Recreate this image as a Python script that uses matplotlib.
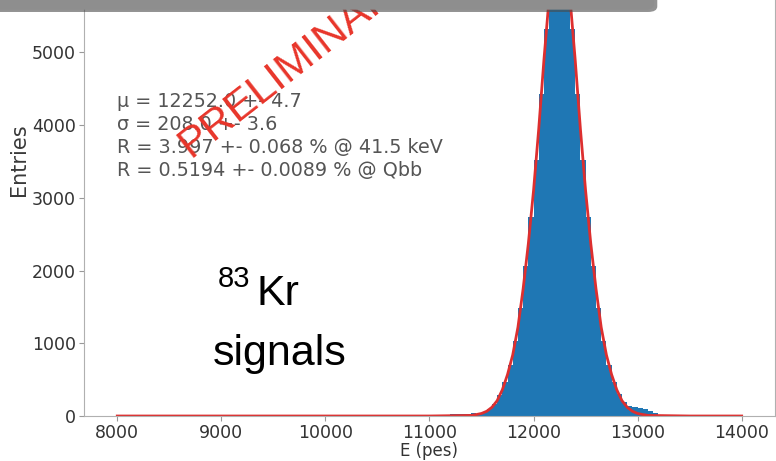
import matplotlib
matplotlib.use('Agg')
import matplotlib.pyplot as plt
from matplotlib.patches import FancyBboxPatch
import numpy as np

# histogram of 83Kr energies (bin width 50 pes), counts
bin_edges_lo = 11000
bin_width = 50
counts = [15, 15, 18, 20, 22, 25, 28, 30, 35, 30,
          50, 90, 165, 285, 465, 705, 1030, 1485, 2060, 2735,
          3525, 4425, 5325, 6075, 6550, 6550, 6075, 5325, 4425, 3525,
          2735, 2060, 1485, 1030, 705, 470, 300, 190, 140, 125,
          110, 95, 75, 45, 15]

# gaussian fit curve, sampled
fit_x = [8000, 11000, 11400, 11450, 11500, 11550, 11600, 11650, 11700, 11750,
         11800, 11850, 11900, 11950, 12000, 12050, 12100, 12150, 12200, 12250,
         12300, 12350, 12400, 12450, 12500, 12550, 12600, 12650, 12700, 12750,
         12800, 12850, 12900, 12950, 13000, 13050, 13100, 13500, 14000]
fit_y = [0, 0, 8, 20, 35, 65, 120, 210, 360, 570,
         840, 1220, 1750, 2370, 3100, 3950, 4900, 5750, 6400, 6700,
         6400, 5750, 4900, 3950, 3100, 2370, 1750, 1220, 840, 570,
         360, 210, 120, 65, 35, 20, 8, 0, 0]

fit_lines = ["\u03bc = 12252.0 +- 4.7",
             "\u03c3 = 208.0 +- 3.6",
             "R = 3.997 +- 0.068 % @ 41.5 keV",
             "R = 0.5194 +- 0.0089 % @ Qbb"]

fig = plt.figure(figsize=(7.76, 4.61), dpi=100)
ax = fig.add_axes([0.1082, 0.0976, 0.8905, 1.1106])

edges = bin_edges_lo + bin_width * np.arange(len(counts) + 1)
centers = edges[:-1] + bin_width / 2
ax.hist(centers, bins=edges, weights=counts, color='#1f77b4')
ax.plot(fit_x, fit_y, color='#dd2f2f', lw=2)

ax.set_xlim(7680, 14320)
ax.set_ylim(0, 7040)
ax.set_xticks([8000, 9000, 10000, 11000, 12000, 13000, 14000])
ax.set_yticks([0, 1000, 2000, 3000, 4000, 5000])
ax.tick_params(labelsize=12.5, colors='#999999', labelcolor='#333333', pad=2.5)
for s in ax.spines.values():
    s.set_color('#b0b0b0')
ax.set_xlabel('E (pes)', fontsize=12, color='#333333', labelpad=0)
ax.set_ylabel('Entries', fontsize=15, color='#3a3a3a', labelpad=2)

ax.text(8000, 4450, "\n".join(fit_lines), fontsize=13.8, color='#555555',
        va='top', ha='left', linespacing=1.26)

# annotations on the slide
fig.text(0.245, 0.657, 'PRELIMINARY', rotation=38, rotation_mode='anchor',
         fontsize=31, color='#e8352a', ha='left', va='baseline',
         family='Liberation Sans')
fig.text(0.280, 0.377, '83', fontsize=21, color='black', family='Liberation Sans')
fig.text(0.331, 0.338, 'Kr', fontsize=31, color='black', family='Liberation Sans')
fig.text(0.2745, 0.208, 'signals', fontsize=31, color='black', family='Liberation Sans')

# grey bar from the slide above (covers the top of the stamp)
fig.patches.append(FancyBboxPatch((-0.03, 0.974), 0.877, 0.06,
                                  boxstyle='round,pad=0,rounding_size=0.012',
                                  transform=fig.transFigure, facecolor='#4a4a4a',
                                  edgecolor='none', alpha=0.6, zorder=10))
fig.patches.append(FancyBboxPatch((-0.03, 0.979), 0.873, 0.06,
                                  boxstyle='round,pad=0,rounding_size=0.012',
                                  transform=fig.transFigure, facecolor='#8e8e8e',
                                  edgecolor='none', zorder=11))

fig.savefig('out.png', dpi=100)
